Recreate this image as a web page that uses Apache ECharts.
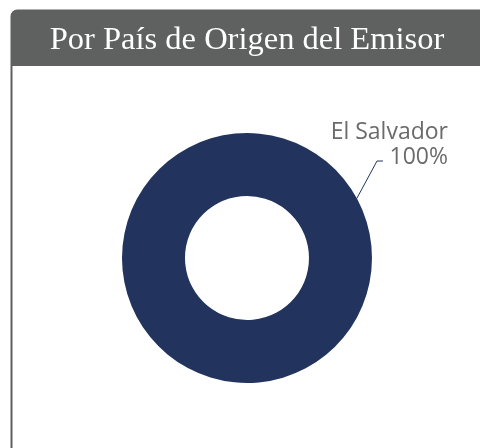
<!DOCTYPE html>
<html><head><meta charset="utf-8">
<script src="https://cdn.jsdelivr.net/npm/echarts@6/dist/echarts.min.js"></script>
<style>html,body{margin:0;padding:0;background:#fff}#c{width:480px;height:448px}</style>
</head><body><div id="c"></div>
<script>
const title = 'Por País de Origen del Emisor';
const categories = ['El Salvador'];
const values = [100];

const chart = echarts.init(document.getElementById('c'), null, {renderer: 'canvas'});
chart.setOption({
  animation: false,
  graphic: [
    {type: 'rect', shape: {x: 11.5, y: 10.5, width: 500, height: 500, r: [6, 0, 0, 0]},
     style: {fill: '#fff', stroke: '#5f6060', lineWidth: 2}, z: -10},
    {type: 'rect', shape: {x: 11, y: 10, width: 500, height: 56, r: [6, 0, 0, 0]},
     style: {fill: '#5f6060'}, z: -5},
    {type: 'text', x: 247, y: 40, style: {text: title, fill: '#fff', font: '32.5px "Liberation Serif", "Times New Roman", serif', align: 'center', verticalAlign: 'middle'}}
  ],
  series: [{
    type: 'pie',
    center: [247, 258],
    radius: [62, 125],
    startAngle: 208,
    data: categories.map((c, i) => ({name: c, value: values[i]})),
    itemStyle: {color: '#22345e'},
    label: {
      show: true,
      formatter: '{b}\n{d}%',
      color: '#6b6b6b',
      fontFamily: '"Open Sans", sans-serif',
      fontSize: 23,
      lineHeight: 25,
      align: 'right',
      overflow: 'none'
    },
    labelLine: {show: true, length: 22, length2: 6, lineStyle: {color: '#22345e', width: 1}},
    labelLayout: function (p) {
      const r = p.rect;
      const cx = r.x + r.width / 2, cy = r.y + r.height / 2, R = r.width / 2;
      const ang = 28.5 * Math.PI / 180;
      const lr = p.labelRect;
      const endX = 448 - 65, endY = 145 + lr.height * 0.32;
      return {
        x: 448, y: 145, align: 'right', verticalAlign: 'middle',
        labelLinePoints: [[cx + R * Math.cos(ang), cy - R * Math.sin(ang)], [endX - 6, endY], [endX, endY]]
      };
    },
    emphasis: {disabled: true}
  }]
});
</script></body></html>
